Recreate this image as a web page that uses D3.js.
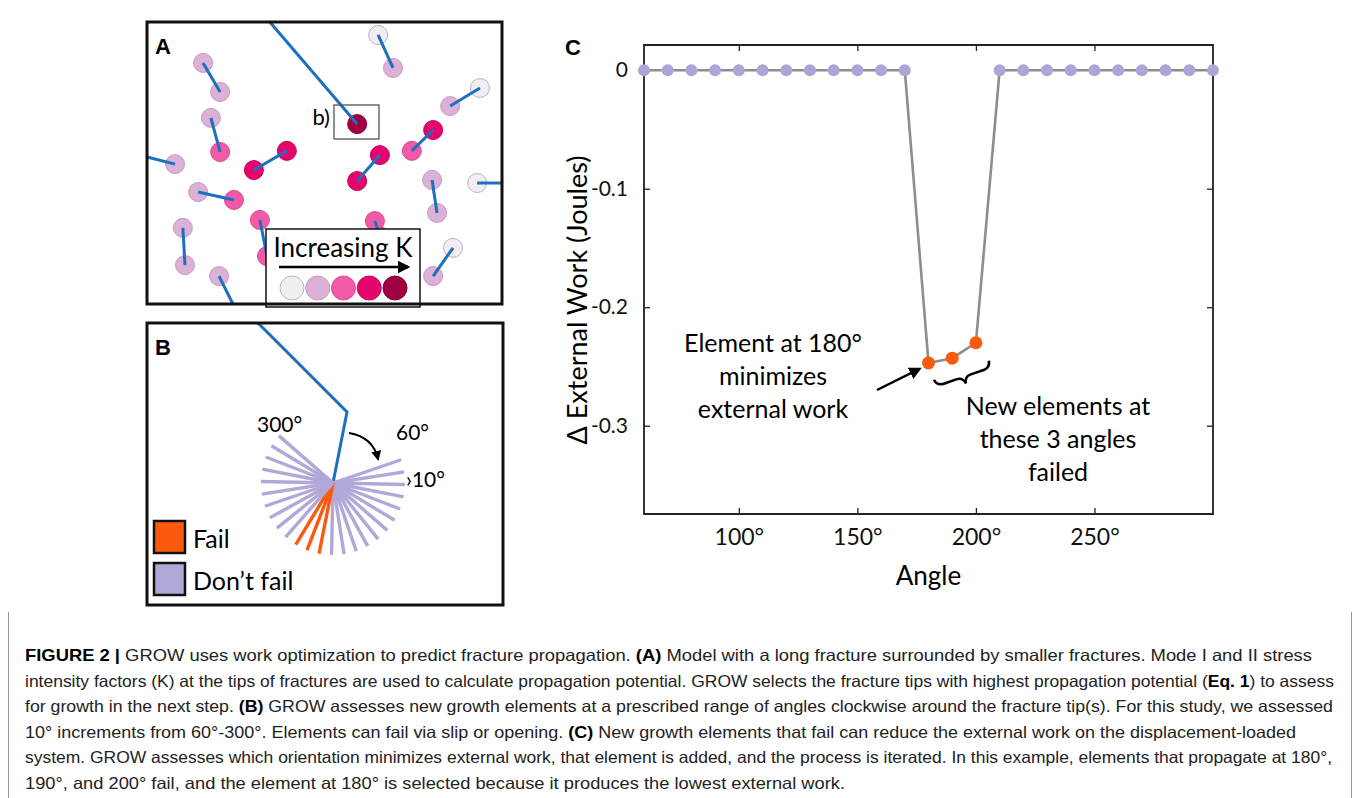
<!DOCTYPE html>
<html>
<head>
<meta charset="utf-8">
<script src="https://cdn.jsdelivr.net/npm/d3@7"></script>
<style>
  body { margin: 0; background: #fff; }
  svg { display: block; }
  text { font-family: Lato, "Open Sans", sans-serif; }
  .cap { font-family: "Liberation Sans Narrow", "Liberation Sans", Arial, sans-serif; font-size: 16.5px; fill: #222; }
</style>
</head>
<body>
<div id="figure"></div>
<script>
// panel C data: angle of the new element vs change in external work
const angles = [60, 70, 80, 90, 100, 110, 120, 130, 140, 150, 160, 170, 180, 190, 200, 210, 220, 230, 240, 250, 260, 270, 280, 290, 300];
const deltaWork = [0, 0, 0, 0, 0, 0, 0, 0, 0, 0, 0, 0, -0.247, -0.243, -0.230, 0, 0, 0, 0, 0, 0, 0, 0, 0, 0];
const failedAngles = [180, 190, 200];
const xTicks = [100, 150, 200, 250];
const yTicks = [0, -0.1, -0.2, -0.3];

// panel A: small fractures, tip positions in % of the panel box, K class 0-4 (-1 = runs off the edge)
const fractures = [
  [65.1, 4.6, 0, 69.3, 16.3, 1],
  [15.8, 14.5, 1, 20.6, 24.8, 1],
  [18.0, 34.0, 1, 20.6, 46.1, 2],
  [0, 47.9, -1, 7.9, 50.4, 1],
  [30.1, 52.5, 3, 39.4, 45.7, 3],
  [14.4, 60.3, 1, 24.5, 63.1, 2],
  [10.1, 73.0, 1, 10.7, 86.2, 1],
  [20.3, 90.1, 1, 24.2, 100, -1],
  [31.8, 70.2, 2, 33.8, 83.0, 2],
  [59.2, 56.4, 3, 65.6, 47.2, 3],
  [64.2, 70.6, 2, 65.6, 76.0, 2],
  [74.6, 45.7, 2, 80.6, 38.3, 3],
  [85.4, 29.8, 1, 93.8, 23.4, 0],
  [80.3, 56.0, 1, 81.7, 67.7, 1],
  [93.0, 57.1, 0, 100, 57.1, -1],
  [80.6, 90.1, 1, 86.2, 80.1, 0]
];
const mainFracture = [[34.6, 0], [59.2, 36.2]];
const kColors = ["#f1edf3", "#dbb1d5", "#f15aa7", "#e6046d", "#a0003f"];
const kStroke = ["#b9b3bd", "#c59ac0", "#d94a93", "#c7005e", "#85003a"];

// panel B: trial growth angles (clockwise from the backward direction)
const trialAngles = [60, 70, 80, 90, 100, 110, 120, 130, 140, 150, 160, 170, 180, 190, 200, 210, 220, 230, 240, 250, 260, 270, 280, 290, 300];

const W = 1354, H = 798;
const BLUE = "#1d6fc0", LAV = "#aca6d6", ORANGE = "#fb5a0c";

const svg = d3.select("#figure").append("svg")
    .attr("width", W)
    .attr("height", H);

svg.append("rect").attr("width", W).attr("height", H).attr("fill", "#fff");

svg.append("defs").append("marker")
    .attr("id", "head")
    .attr("viewBox", "0 0 10 10")
    .attr("refX", 8).attr("refY", 5)
    .attr("markerWidth", 5).attr("markerHeight", 5)
    .attr("orient", "auto")
    .append("path")
    .attr("d", "M0,0 L10,5 L0,10 z")
    .attr("fill", "#000");

// ---------- Panel A ----------
const A = { x0: 147, y0: 22, x1: 502, y1: 304 };
const ax = d3.scaleLinear().domain([0, 100]).range([A.x0, A.x1]);
const ay = d3.scaleLinear().domain([0, 100]).range([A.y0, A.y1]);
const gA = svg.append("g");

const tips = [];
fractures.forEach(d => {
    if (d[2] >= 0) tips.push([d[0], d[1], d[2]]);
    if (d[5] >= 0) tips.push([d[3], d[4], d[5]]);
});

gA.selectAll(".tip")
    .data(tips)
    .enter()
    .append("circle")
    .attr("cx", d => ax(d[0])).attr("cy", d => ay(d[1]))
    .attr("r", 9.5)
    .style("fill", d => kColors[d[2]])
    .style("stroke", d => kStroke[d[2]])
    .style("stroke-width", 1);

gA.selectAll(".frac")
    .data(fractures)
    .enter()
    .append("line")
    .attr("x1", d => ax(d[0])).attr("y1", d => ay(d[1]))
    .attr("x2", d => ax(d[3])).attr("y2", d => ay(d[4]))
    .style("stroke", BLUE)
    .style("stroke-width", 3);

gA.append("circle")
    .attr("cx", ax(mainFracture[1][0])).attr("cy", ay(mainFracture[1][1]))
    .attr("r", 9.5)
    .style("fill", kColors[4]).style("stroke", kStroke[4]);
gA.append("line")
    .attr("x1", ax(mainFracture[0][0])).attr("y1", ay(mainFracture[0][1]))
    .attr("x2", ax(mainFracture[1][0])).attr("y2", ay(mainFracture[1][1]))
    .style("stroke", BLUE).style("stroke-width", 3);

// b) box
gA.append("rect")
    .attr("x", 334).attr("y", 105).attr("width", 45).attr("height", 34)
    .style("fill", "none").style("stroke", "#555").style("stroke-width", 1.3);
gA.append("text")
    .attr("x", 330).attr("y", 125)
    .attr("text-anchor", "end")
    .style("font-size", "22px")
    .text("b)");

// legend for K
gA.append("rect")
    .attr("x", 266).attr("y", 229).attr("width", 154).attr("height", 78)
    .style("fill", "#fff").style("stroke", "#111").style("stroke-width", 1.5);
gA.append("text")
    .attr("x", 343).attr("y", 257)
    .attr("text-anchor", "middle")
    .style("font-size", "26px")
    .text("Increasing K");
gA.append("line")
    .attr("x1", 279).attr("y1", 267).attr("x2", 408).attr("y2", 267)
    .style("stroke", "#000").style("stroke-width", 2.5)
    .attr("marker-end", "url(#head)");
const kx = d3.scalePoint().domain(d3.range(kColors.length)).range([292, 395]);
gA.selectAll(".kleg")
    .data(kColors)
    .enter()
    .append("circle")
    .attr("cx", (d, i) => kx(i)).attr("cy", 288)
    .attr("r", 12)
    .style("fill", d => d)
    .style("stroke", (d, i) => kStroke[i])
    .style("stroke-width", 1);

gA.append("rect")
    .attr("x", A.x0).attr("y", A.y0).attr("width", A.x1 - A.x0).attr("height", A.y1 - A.y0)
    .style("fill", "none").style("stroke", "#111").style("stroke-width", 3);
gA.append("text")
    .attr("x", 155).attr("y", 54)
    .style("font-family", "Liberation Sans, Arial, sans-serif")
    .style("font-weight", "bold").style("font-size", "22px")
    .text("A");

// ---------- Panel B ----------
const B = { x0: 147, y0: 323, x1: 503, y1: 605 };
const gB = svg.append("g");
const tip = [333, 483], kink = [347, 412];
const base = Math.atan2(kink[1] - tip[1], kink[0] - tip[0]);
const rayLen = 72;

gB.append("path")
    .attr("d", d3.line()([[258, 323], kink, tip]))
    .style("fill", "none").style("stroke", BLUE).style("stroke-width", 3);

gB.selectAll(".ray")
    .data(trialAngles)
    .enter()
    .append("line")
    .attr("x1", tip[0]).attr("y1", tip[1])
    .attr("x2", d => tip[0] + rayLen * Math.cos(base + d * Math.PI / 180))
    .attr("y2", d => tip[1] + rayLen * Math.sin(base + d * Math.PI / 180))
    .style("stroke", d => failedAngles.includes(d) ? ORANGE : "#b1a7d8")
    .style("stroke-width", 3.4);

gB.append("text").attr("x", 257).attr("y", 432).style("font-size", "21px").text("300°");
gB.append("text").attr("x", 396).attr("y", 440).style("font-size", "21px").text("60°");
gB.append("text").attr("x", 406).attr("y", 487).style("font-size", "21px").text("\u203a10°");
gB.append("path")
    .attr("d", "M349,433 Q373,437 378,459")
    .style("fill", "none").style("stroke", "#000").style("stroke-width", 2)
    .attr("marker-end", "url(#head)");

const legB = [["Fail", ORANGE, 521], ["Don\u2019t fail", "#b1a7d8", 563]];
gB.selectAll(".lsq")
    .data(legB)
    .enter()
    .append("rect")
    .attr("x", 154).attr("y", d => d[2])
    .attr("width", 31).attr("height", 32)
    .style("fill", d => d[1]).style("stroke", "#111").style("stroke-width", 2.5);
gB.selectAll(".ltx")
    .data(legB)
    .enter()
    .append("text")
    .attr("x", 193).attr("y", d => d[2] + 27)
    .style("font-size", "25px")
    .text(d => d[0]);

gB.append("rect")
    .attr("x", B.x0).attr("y", B.y0).attr("width", B.x1 - B.x0).attr("height", B.y1 - B.y0)
    .style("fill", "none").style("stroke", "#111").style("stroke-width", 3);
gB.append("text")
    .attr("x", 155).attr("y", 355)
    .style("font-family", "Liberation Sans, Arial, sans-serif")
    .style("font-weight", "bold").style("font-size", "22px")
    .text("B");

// ---------- Panel C ----------
const C = { left: 644, right: 1213, top: 45, bottom: 514 };
const x = d3.scaleLinear().domain([60, 300]).range([C.left, C.right]);
const y = d3.scaleLinear().domain([-0.3745, 0.0213]).range([C.bottom, C.top]);
const gC = svg.append("g");

function styleAxis(g, size) {
    g.select(".domain").remove();
    g.selectAll("line").style("stroke", "#222").style("stroke-width", 1.3);
    g.selectAll("text").style("font-family", "Lato, sans-serif").style("font-size", (size || 23) + "px").style("fill", "#111");
}

gC.append("g")
    .attr("transform", `translate(0,${C.bottom})`)
    .call(d3.axisBottom(x).tickValues(xTicks).tickSize(-6).tickPadding(15).tickFormat(d => d + "°"))
    .call(styleAxis);
gC.append("g")
    .attr("transform", `translate(0,${C.top})`)
    .call(d3.axisTop(x).tickValues(xTicks).tickSize(-6).tickFormat(""))
    .call(styleAxis);
gC.append("g")
    .attr("transform", `translate(${C.left},0)`)
    .call(d3.axisLeft(y).tickValues(yTicks).tickSize(-6).tickPadding(16).tickFormat(d => d === 0 ? "0" : String(d)))
    .call(g => styleAxis(g, 21));
gC.append("g")
    .attr("transform", `translate(${C.right},0)`)
    .call(d3.axisRight(y).tickValues(yTicks).tickSize(-6).tickFormat(""))
    .call(styleAxis);

gC.append("path")
    .attr("d", `M${C.left},${C.bottom} L${C.left},${C.top} L${C.right},${C.top} L${C.right},${C.bottom} Z`)
    .style("fill", "none").style("stroke", "#222").style("stroke-width", 1.8);

const pts = angles.map((a, i) => [a, deltaWork[i]]);
gC.append("path")
    .datum(pts)
    .attr("d", d3.line().x(d => x(d[0])).y(d => y(d[1])))
    .style("fill", "none").style("stroke", "#8d8d8d").style("stroke-width", 2.6);

gC.selectAll(".pt")
    .data(pts)
    .enter()
    .append("circle")
    .attr("cx", d => x(d[0])).attr("cy", d => y(d[1]))
    .attr("r", d => failedAngles.includes(d[0]) ? 6.5 : 6)
    .style("fill", d => failedAngles.includes(d[0]) ? ORANGE : LAV);

gC.append("text")
    .attr("transform", "translate(587,300) rotate(-90)")
    .attr("text-anchor", "middle")
    .style("font-size", "27px")
    .text("\u0394 External Work (Joules)");
gC.append("text")
    .attr("x", (C.left + C.right) / 2).attr("y", 585)
    .attr("text-anchor", "middle")
    .style("font-size", "26px")
    .text("Angle");
gC.append("text")
    .attr("x", 565).attr("y", 55)
    .style("font-family", "Liberation Sans, Arial, sans-serif")
    .style("font-weight", "bold").style("font-size", "22px")
    .text("C");

const note1 = ["Element at 180°", "minimizes", "external work"];
gC.selectAll(".n1")
    .data(note1)
    .enter()
    .append("text")
    .attr("x", 773).attr("y", (d, i) => 352 + i * 33)
    .attr("text-anchor", "middle")
    .style("font-size", "25px")
    .text(d => d);
const note2 = ["New elements at", "these 3 angles", "failed"];
gC.selectAll(".n2")
    .data(note2)
    .enter()
    .append("text")
    .attr("x", 1058).attr("y", (d, i) => 415 + i * 33)
    .attr("text-anchor", "middle")
    .style("font-size", "25px")
    .text(d => d);

gC.append("line")
    .attr("x1", 877).attr("y1", 390).attr("x2", x(180) - 9).attr("y2", y(-0.247) + 6)
    .style("stroke", "#000").style("stroke-width", 2.5)
    .attr("marker-end", "url(#head)");

// curly brace under the failed points
gC.append("path")
    .attr("transform", "translate(963,375) rotate(-19)")
    .attr("d", "M-29,-5 Q-28,3 -18,2 L-7,2 Q-1,2 0,9 Q1,2 7,2 L18,2 Q28,3 29,-5")
    .style("fill", "none").style("stroke", "#000").style("stroke-width", 2.5);

// ---------- Caption ----------
const captionLines = [
    [["FIGURE 2 | ", true], ["GROW uses work optimization to predict fracture propagation. ", false], ["(A)", true], [" Model with a long fracture surrounded by smaller fractures. Mode I and II stress", false]],
    [["intensity factors (K) at the tips of fractures are used to calculate propagation potential. GROW selects the fracture tips with highest propagation potential (", false], ["Eq. 1", true], [") to assess", false]],
    [["for growth in the next step. ", false], ["(B)", true], [" GROW assesses new growth elements at a prescribed range of angles clockwise around the fracture tip(s). For this study, we assessed", false]],
    [["10° increments from 60°-300°. Elements can fail via slip or opening. ", false], ["(C)", true], [" New growth elements that fail can reduce the external work on the displacement-loaded", false]],
    [["system. GROW assesses which orientation minimizes external work, that element is added, and the process is iterated. In this example, elements that propagate at 180°,", false]],
    [["190°, and 200° fail, and the element at 180° is selected because it produces the lowest external work.", false]]
];
const lineEnds = [1312, 1334, 1333, 1296, 1332, 845];

const cap = svg.append("g");
cap.selectAll(".cl")
    .data(captionLines)
    .enter()
    .append("text")
    .attr("class", "cap")
    .attr("x", 25)
    .attr("y", (d, i) => 661 + i * 25.6)
    .attr("textLength", (d, i) => lineEnds[i] - 25)
    .attr("lengthAdjust", "spacingAndGlyphs")
    .each(function (d) {
        const t = d3.select(this);
        d.forEach(seg => {
            t.append("tspan")
                .style("font-weight", seg[1] ? "bold" : "normal")
                .style("fill", seg[1] ? "#000" : "#222")
                .text(seg[0]);
        });
    });

svg.append("line").attr("x1", 8.5).attr("y1", 612).attr("x2", 8.5).attr("y2", H)
    .style("stroke", "#999").style("stroke-width", 1);
svg.append("line").attr("x1", 1351.5).attr("y1", 612).attr("x2", 1351.5).attr("y2", H)
    .style("stroke", "#999").style("stroke-width", 1);
</script>
</body>
</html>
